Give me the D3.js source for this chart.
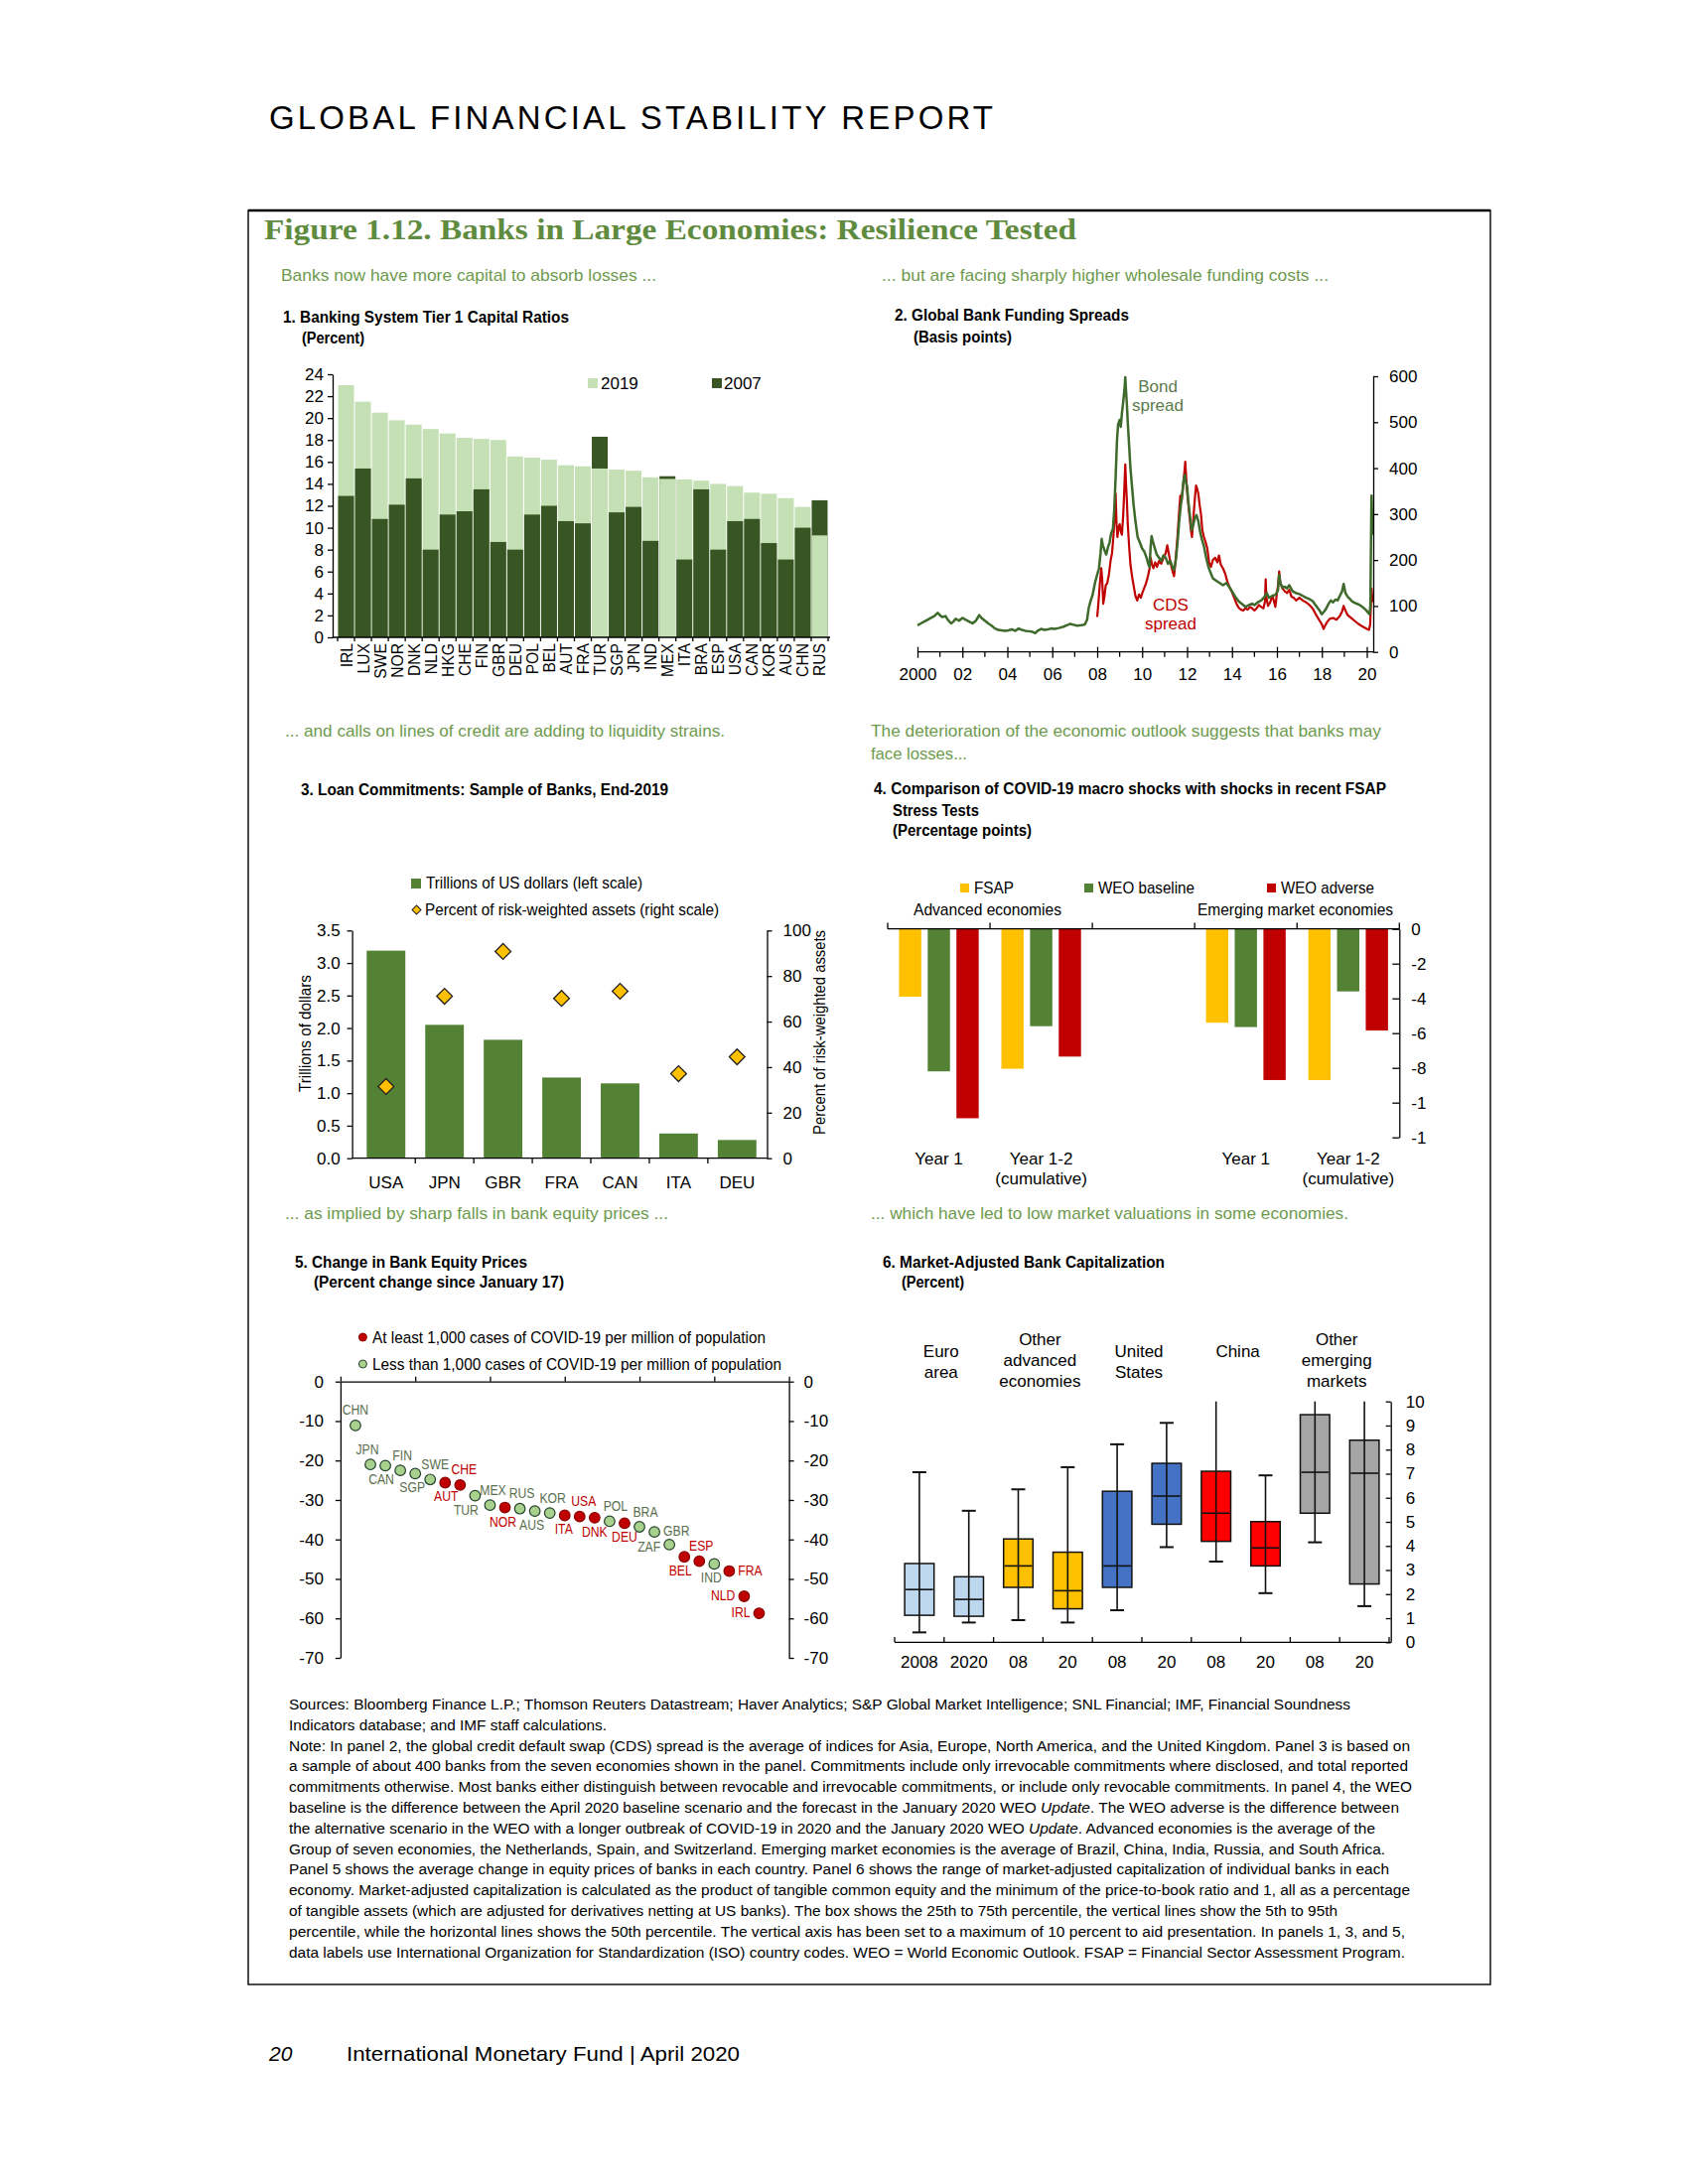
<!DOCTYPE html>
<html><head><meta charset="utf-8">
<script src="https://cdn.jsdelivr.net/npm/d3@7/dist/d3.min.js"></script>
<style>html,body{margin:0;padding:0;background:#fff}</style>
</head><body>
<svg id="chart" width="1700" height="2200" xmlns="http://www.w3.org/2000/svg"></svg>
<script>
// ================= DATA =================
// Panel 1
const p1Countries = ["IRL","LUX","SWE","NOR","DNK","NLD","HKG","CHE","FIN","GBR","DEU","POL","BEL","AUT","FRA","TUR","SGP","JPN","IND","MEX","ITA","BRA","ESP","USA","CAN","KOR","AUS","CHN","RUS"];
const p1Ratio2019 = [23.0,21.5,20.5,19.8,19.4,19.0,18.6,18.2,18.1,18.0,16.5,16.4,16.2,15.7,15.6,15.4,15.3,15.2,14.6,14.45,14.4,14.3,14.0,13.8,13.2,13.1,12.7,11.9,9.3];
const p1Ratio2007 = [12.9,15.4,10.8,12.1,14.5,8.0,11.2,11.5,13.5,8.7,8.0,11.2,12.0,10.6,10.4,18.3,11.4,11.9,8.8,14.7,7.1,13.5,8.0,10.6,10.8,8.6,7.1,10.0,12.5];
const p1YTicks = [0,2,4,6,8,10,12,14,16,18,20,22,24];

// Panel 2 : [year, basis points]
const p2Bond = [[2000.00,58],[2000.15,62],[2000.3,66],[2000.45,70],[2000.6,74],[2000.75,78],[2000.9,85],[2001.0,80],[2001.1,76],[2001.25,78],[2001.35,70],[2001.5,62],[2001.6,66],[2001.7,72],[2001.85,68],[2002.0,74],[2002.15,70],[2002.3,66],[2002.45,62],[2002.6,68],[2002.75,80],[2002.85,74],[2003.0,68],[2003.15,62],[2003.3,57],[2003.45,51],[2003.6,48],[2003.75,47],[2003.9,46],[2004.05,47],[2004.2,49],[2004.35,46],[2004.5,51],[2004.65,48],[2004.8,46],[2004.95,45],[2005.1,44],[2005.25,41],[2005.35,46],[2005.5,50],[2005.65,48],[2005.8,49],[2005.95,51],[2006.1,50],[2006.3,52],[2006.5,55],[2006.65,58],[2006.8,61],[2006.95,59],[2007.1,57],[2007.3,58],[2007.45,60],[2007.55,70],[2007.62,95],[2007.7,110],[2007.8,125],[2007.9,150],[2008.0,168],[2008.08,182],[2008.15,215],[2008.2,246],[2008.25,232],[2008.32,222],[2008.4,212],[2008.48,228],[2008.55,238],[2008.62,258],[2008.7,268],[2008.76,310],[2008.82,380],[2008.88,460],[2008.93,495],[2009.0,505],[2009.05,490],[2009.1,520],[2009.16,545],[2009.22,575],[2009.25,598],[2009.28,570],[2009.32,540],[2009.36,500],[2009.42,450],[2009.48,400],[2009.55,360],[2009.62,320],[2009.7,285],[2009.8,250],[2009.9,238],[2010.0,225],[2010.1,218],[2010.2,205],[2010.28,190],[2010.33,185],[2010.38,230],[2010.42,252],[2010.48,240],[2010.55,228],[2010.65,212],[2010.75,205],[2010.85,198],[2010.95,210],[2011.05,205],[2011.15,192],[2011.25,198],[2011.35,185],[2011.42,178],[2011.5,200],[2011.58,240],[2011.65,285],[2011.72,318],[2011.8,350],[2011.85,375],[2011.9,385],[2011.95,370],[2012.0,360],[2012.05,330],[2012.12,300],[2012.2,265],[2012.27,275],[2012.35,292],[2012.42,298],[2012.5,285],[2012.58,262],[2012.66,245],[2012.75,230],[2012.85,205],[2012.95,185],[2013.05,172],[2013.15,160],[2013.3,155],[2013.45,150],[2013.6,145],[2013.75,150],[2013.9,140],[2014.0,132],[2014.15,120],[2014.3,110],[2014.45,104],[2014.6,98],[2014.75,102],[2014.9,105],[2015.0,102],[2015.15,108],[2015.3,112],[2015.45,120],[2015.55,128],[2015.65,118],[2015.8,122],[2015.95,125],[2016.05,135],[2016.1,168],[2016.15,150],[2016.25,140],[2016.35,142],[2016.45,138],[2016.55,145],[2016.7,132],[2016.85,128],[2017.0,126],[2017.15,122],[2017.3,118],[2017.45,115],[2017.6,110],[2017.75,100],[2017.9,90],[2018.0,82],[2018.1,88],[2018.2,95],[2018.3,105],[2018.4,112],[2018.5,108],[2018.6,114],[2018.7,112],[2018.8,122],[2018.9,132],[2018.97,148],[2019.05,128],[2019.15,120],[2019.25,115],[2019.35,110],[2019.5,106],[2019.65,103],[2019.8,98],[2019.95,92],[2020.05,86],[2020.12,82],[2020.16,100],[2020.19,250],[2020.21,340],[2020.23,300],[2020.26,255]];
const p2CDS = [[2008.0,76],[2008.06,110],[2008.12,150],[2008.18,182],[2008.22,160],[2008.27,105],[2008.32,120],[2008.38,145],[2008.45,150],[2008.52,168],[2008.6,200],[2008.66,215],[2008.72,250],[2008.78,300],[2008.82,345],[2008.86,280],[2008.9,250],[2008.95,270],[2009.0,278],[2009.05,262],[2009.1,255],[2009.16,300],[2009.2,345],[2009.25,408],[2009.28,370],[2009.32,330],[2009.36,280],[2009.42,230],[2009.48,190],[2009.55,165],[2009.62,145],[2009.7,122],[2009.78,112],[2009.86,125],[2009.94,118],[2010.02,130],[2010.1,140],[2010.18,150],[2010.26,165],[2010.32,178],[2010.38,205],[2010.44,190],[2010.5,182],[2010.58,195],[2010.66,185],[2010.75,198],[2010.85,192],[2010.95,205],[2011.05,215],[2011.12,232],[2011.2,210],[2011.28,190],[2011.36,175],[2011.42,165],[2011.5,205],[2011.58,255],[2011.64,300],[2011.7,340],[2011.76,330],[2011.82,360],[2011.88,390],[2011.92,414],[2011.96,380],[2012.0,350],[2012.06,320],[2012.12,290],[2012.18,262],[2012.22,250],[2012.28,290],[2012.34,330],[2012.4,362],[2012.45,355],[2012.5,345],[2012.56,320],[2012.62,300],[2012.68,265],[2012.75,250],[2012.82,240],[2012.9,225],[2012.98,195],[2013.06,185],[2013.15,200],[2013.25,205],[2013.35,195],[2013.42,210],[2013.5,190],[2013.6,182],[2013.7,170],[2013.8,152],[2013.9,140],[2014.0,130],[2014.1,118],[2014.2,105],[2014.3,96],[2014.4,92],[2014.5,90],[2014.6,95],[2014.7,92],[2014.8,98],[2014.9,95],[2015.0,90],[2015.1,95],[2015.2,102],[2015.3,98],[2015.4,95],[2015.47,110],[2015.5,158],[2015.53,120],[2015.6,100],[2015.7,108],[2015.8,122],[2015.87,110],[2015.93,98],[2016.0,128],[2016.05,145],[2016.1,175],[2016.15,150],[2016.25,138],[2016.35,132],[2016.45,128],[2016.55,135],[2016.65,120],[2016.75,118],[2016.85,112],[2017.0,118],[2017.15,112],[2017.3,108],[2017.45,102],[2017.6,94],[2017.75,80],[2017.9,68],[2018.0,60],[2018.08,50],[2018.15,58],[2018.25,66],[2018.35,72],[2018.5,74],[2018.65,70],[2018.8,78],[2018.9,88],[2018.97,100],[2019.05,90],[2019.15,80],[2019.3,74],[2019.45,68],[2019.6,62],[2019.75,57],[2019.9,53],[2020.0,50],[2020.1,48],[2020.15,60],[2020.19,110],[2020.21,138],[2020.24,120],[2020.26,108]];
const p2XTicks = [2000,2002,2004,2006,2008,2010,2012,2014,2016,2018,2020];
const p2XTickLabels = ["2000","02","04","06","08","10","12","14","16","18","20"];
const p2YTicks = [0,100,200,300,400,500,600];

// Panel 3
const p3Countries = ["USA","JPN","GBR","FRA","CAN","ITA","DEU"];
const p3Trillions = [3.19,2.05,1.82,1.24,1.15,0.38,0.28];
const p3PctRWA = [31.5,71.1,90.8,70.2,73.3,37.1,44.5];
const p3LeftTicks = [0,0.5,1.0,1.5,2.0,2.5,3.0,3.5];
const p3RightTicks = [0,20,40,60,80,100];

// Panel 4
const p4Groups = ["AE Year 1","AE Year 1-2","gap","EM Year 1","EM Year 1-2"];
const p4GroupLabels = [["Year 1"],["Year 1-2","(cumulative)"],[],["Year 1"],["Year 1-2","(cumulative)"]];
const p4Series = ["FSAP","WEO baseline","WEO adverse"];
const p4FSAP = [-3.9,-8.05,null,-5.4,-8.7];
const p4WEOBaseline = [-8.2,-5.6,null,-5.65,-3.6];
const p4WEOAdverse = [-10.9,-7.35,null,-8.7,-5.85];
const p4YTicks = [0,-2,-4,-6,-8,-10,-12];
const p4YTickLabels = ["0","-2","-4","-6","-8","-1","-1"];

// Panel 5
const p5Countries = ["CHN","JPN","CAN","FIN","SGP","SWE","AUT","CHE","TUR","MEX","NOR","RUS","AUS","KOR","ITA","USA","DNK","POL","DEU","BRA","GBR","ZAF","BEL","ESP","IND","FRA","NLD","IRL"];
const p5Change = [-11.1,-21.0,-21.3,-22.5,-23.3,-24.8,-25.6,-26.2,-28.9,-31.3,-31.9,-32.2,-32.8,-33.3,-33.9,-34.2,-34.5,-35.4,-35.9,-36.8,-38.1,-41.3,-44.4,-45.5,-46.2,-48.0,-54.4,-58.7];
const p5HighCases = [0,0,0,0,0,0,1,1,0,0,1,0,0,0,1,1,1,0,1,0,0,0,1,1,0,1,1,1];
const p5LabelSide = ["a","a","b","a","b","a","b","a","b","a","b","a","b","a","b","a","b","a","b","a","r","l","b","a","b","r","l","l"];
const p5LabelNudge = [0,-3,-4,2,-3,5,1,4,-9,3,-2,2,-3,3,-1,4,0,6,0,6,0,0,-4,2,-3,0,0,0];
const p5YTicks = [0,-10,-20,-30,-40,-50,-60,-70];

// Panel 6
const p6Keys = ["EA08","EA20","OA08","OA20","US08","US20","CN08","CN20","EM08","EM20"];
const p6TickLabels = ["2008","2020","08","20","08","20","08","20","08","20"];
const p6P05 = [0.41,0.82,0.92,0.82,1.33,3.95,3.35,2.04,4.15,1.50];
const p6P25 = [1.12,1.08,2.28,1.39,2.28,4.90,4.19,3.17,5.36,2.42];
const p6P50 = [2.19,1.78,3.17,2.14,3.17,6.07,5.36,3.92,7.06,7.02];
const p6P75 = [3.27,2.72,4.29,3.74,6.27,7.43,7.10,5.01,9.45,8.39];
const p6P95 = [7.06,5.46,6.35,7.27,8.22,9.11,10,6.93,10,10];
const p6Groups = [["Euro","area"],["Other","advanced","economies"],["United","States"],["China"],["Other","emerging","markets"]];
const p6YTicks = [0,1,2,3,4,5,6,7,8,9,10];

// Notes
const notesLines = [
"Sources: Bloomberg Finance L.P.; Thomson Reuters Datastream; Haver Analytics; S&P Global Market Intelligence; SNL Financial; IMF, Financial Soundness",
"Indicators database; and IMF staff calculations.",
"Note: In panel 2, the global credit default swap (CDS) spread is the average of indices for Asia, Europe, North America, and the United Kingdom. Panel 3 is based on",
"a sample of about 400 banks from the seven economies shown in the panel. Commitments include only irrevocable commitments where disclosed, and total reported",
"commitments otherwise. Most banks either distinguish between revocable and irrevocable commitments, or include only revocable commitments. In panel 4, the WEO",
"baseline is the difference between the April 2020 baseline scenario and the forecast in the January 2020 WEO *Update*. The WEO adverse is the difference between",
"the alternative scenario in the WEO with a longer outbreak of COVID-19 in 2020 and the January 2020 WEO *Update*. Advanced economies is the average of the",
"Group of seven economies, the Netherlands, Spain, and Switzerland. Emerging market economies is the average of Brazil, China, India, Russia, and South Africa.",
"Panel 5 shows the average change in equity prices of banks in each country. Panel 6 shows the range of market-adjusted capitalization of individual banks in each",
"economy. Market-adjusted capitalization is calculated as the product of tangible common equity and the minimum of the price-to-book ratio and 1, all as a percentage",
"of tangible assets (which are adjusted for derivatives netting at US banks). The box shows the 25th to 75th percentile, the vertical lines show the 5th to 95th",
"percentile, while the horizontal lines shows the 50th percentile. The vertical axis has been set to a maximum of 10 percent to aid presentation. In panels 1, 3, and 5,",
"data labels use International Organization for Standardization (ISO) country codes. WEO = World Economic Outlook. FSAP = Financial Sector Assessment Program."
];
const notesWidths = [1069,320,1129,1127,1131,1118,1094,1104,1108,1129,1056,1124,1124];

// ================= DRAWING =================
const svg = d3.select('#chart');
const NAR = "'Liberation Sans Narrow','Arial Narrow','Liberation Sans',Arial,sans-serif";
const SANS = "'Liberation Sans',Arial,Helvetica,sans-serif";
const SUBC = '#6e9a4e';
const plain = d => String(d);

function T(g,x,y,s,o={}){
  const t=g.append('text').attr('x',x).attr('y',y)
    .attr('font-family',o.ff||NAR).attr('font-size',o.fs||17).attr('fill',o.fill||'#000');
  if(o.anchor)t.attr('text-anchor',o.anchor);
  if(o.fw)t.attr('font-weight',o.fw);
  if(o.fst)t.attr('font-style',o.fst);
  if(o.rot!=null)t.attr('transform',`rotate(${o.rot},${x},${y})`);
  t.text(s);
  if(o.w)t.attr('textLength',o.w).attr('lengthAdjust',o.adj||'spacingAndGlyphs');
  else if(o.sx){const n=t.node().getComputedTextLength(); t.attr('textLength',n*o.sx).attr('lengthAdjust','spacingAndGlyphs');}
  return t;
}
function styleAxis(g){
  g.attr('font-family',NAR).attr('font-size',17);
  g.selectAll('.domain').attr('stroke','#000').attr('stroke-width',1.3);
  g.selectAll('.tick line').attr('stroke','#000').attr('stroke-width',1.3);
  g.selectAll('.tick text').attr('fill','#000');
  return g;
}
function L(x1,y1,x2,y2,w=1.3,c='#000'){
  svg.append('line').attr('x1',x1).attr('y1',y1).attr('x2',x2).attr('y2',y2).attr('stroke',c).attr('stroke-width',w);
}

// Header & frame
T(svg,271,130,"GLOBAL FINANCIAL STABILITY REPORT",{ff:SANS,fs:33,w:729,adj:'spacing'});
svg.append('rect').attr('x',250).attr('y',212).attr('width',1251).attr('height',1787).attr('fill','none').attr('stroke','#000').attr('stroke-width',1.4);
L(250,212,1501,212,2.4);
T(svg,266,241,"Figure 1.12. Banks in Large Economies: Resilience Tested",{ff:"'Liberation Serif','Times New Roman',serif",fs:30,fw:'bold',fill:'#5f8b3e',w:818});

// Subtitles
T(svg,283,283,"Banks now have more capital to absorb losses ...",{fill:SUBC,w:378});
T(svg,888,283,"... but are facing sharply higher wholesale funding costs ...",{fill:SUBC,w:450});
T(svg,287,742,"... and calls on lines of credit are adding to liquidity strains.",{fill:SUBC,w:443});
T(svg,877,742,"The deterioration of the economic outlook suggests that banks may",{fill:SUBC,w:514});
T(svg,877,765,"face losses...",{fill:SUBC,w:97});
T(svg,287,1228,"... as implied by sharp falls in bank equity prices ...",{fill:SUBC,w:386});
T(svg,877,1228,"... which have led to low market valuations in some economies.",{fill:SUBC,w:481});

// Panel titles
const PT = {fw:'bold',fs:16};
T(svg,285,325,"1. Banking System Tier 1 Capital Ratios",{...PT,w:288});
T(svg,304,346,"(Percent)",{...PT,w:63});
T(svg,901,323,"2. Global Bank Funding Spreads",{...PT,w:236});
T(svg,920,345,"(Basis points)",{...PT,w:99});
T(svg,303,801,"3. Loan Commitments: Sample of Banks, End-2019",{...PT,w:370});
T(svg,880,800,"4. Comparison of COVID-19 macro shocks with shocks in recent FSAP",{...PT,w:516});
T(svg,899,822,"Stress Tests",{...PT,w:87});
T(svg,899,842,"(Percentage points)",{...PT,w:140});
T(svg,297,1277,"5. Change in Bank Equity Prices",{...PT,w:234});
T(svg,316,1297,"(Percent change since January 17)",{...PT,w:252});
T(svg,889,1277,"6. Market-Adjusted Bank Capitalization",{...PT,w:284});
T(svg,908,1297,"(Percent)",{...PT,w:63});

// ---------- Panel 1 ----------
{
  const LIGHT='#c5e0b4', DARK='#375623';
  const x=d3.scaleBand().domain(p1Countries).range([340,834]).paddingInner(0.06).paddingOuter(0.03);
  const y=d3.scaleLinear().domain([0,24]).range([642,377]);
  const g=svg.append('g');
  p1Countries.forEach((c,i)=>{
    const bars=[{v:p1Ratio2019[i],col:LIGHT},{v:p1Ratio2007[i],col:DARK}].sort((a,b)=>b.v-a.v);
    bars.forEach(b=>{
      g.append('rect').attr('x',x(c)).attr('width',x.bandwidth()).attr('y',y(b.v)).attr('height',y(0)-y(b.v)).attr('fill',b.col);
    });
    T(svg,x(c)+x.bandwidth()/2+6,648,c,{fs:17,anchor:'end',rot:-90,sx:0.92});
  });
  const ay=svg.append('g').attr('transform','translate(335,0)').call(d3.axisLeft(y).tickValues(p1YTicks).tickSize(5).tickSizeOuter(0).tickPadding(4));
  styleAxis(ay);
  L(335,642,836,642);
  const step=x.step();
  for(let i=0;i<=p1Countries.length;i++){const bx=x(p1Countries[0])-x.step()*x.paddingInner()/2+i*step; L(bx,642,bx,646);}
  svg.append('rect').attr('x',592).attr('y',381).attr('width',10).attr('height',10).attr('fill',LIGHT);
  T(svg,605,392,"2019");
  svg.append('rect').attr('x',717).attr('y',381).attr('width',10).attr('height',10).attr('fill',DARK);
  T(svg,729,392,"2007");
}

// ---------- Panel 2 ----------
{
  const x=d3.scaleLinear().domain([2000,2020]).range([924,1376.5]);
  const y=d3.scaleLinear().domain([0,600]).range([656.7,379]);
  const line=d3.line().x(d=>x(d[0])).y(d=>y(d[1]));
  svg.append('path').datum(p2CDS).attr('d',line).attr('fill','none').attr('stroke','#c00000').attr('stroke-width',2.2).attr('stroke-linejoin','round');
  svg.append('path').datum(p2Bond).attr('d',line).attr('fill','none').attr('stroke','#3e6a2c').attr('stroke-width',2.5).attr('stroke-linejoin','round');
  const ar=svg.append('g').attr('transform','translate(1383,0)').call(d3.axisRight(y).tickValues(p2YTicks).tickFormat(plain).tickSize(5).tickSizeOuter(0).tickPadding(11));
  styleAxis(ar);
  const ax=svg.append('g').attr('transform','translate(0,656.7)').call(d3.axisBottom(x).tickValues(p2XTicks).tickFormat((d,i)=>p2XTickLabels[i]).tickSize(6).tickPadding(10));
  styleAxis(ax);
  ax.select('.domain').remove();
  ax.selectAll('.tick line').attr('y1',-5);
  L(924,656.7,1383,656.7);
  for(let yr=2001;yr<2020;yr+=2){L(x(yr),656.7,x(yr),661.7);}
  T(svg,1166,395,"Bond",{anchor:'middle',fill:'#5c7a4c'});
  T(svg,1166,414,"spread",{anchor:'middle',fill:'#5c7a4c'});
  T(svg,1179,615,"CDS",{anchor:'middle',fill:'#c00000'});
  T(svg,1179,634,"spread",{anchor:'middle',fill:'#c00000'});
}

// ---------- Panel 3 ----------
{
  const x=d3.scaleBand().domain(p3Countries).range([359.3,771.8]).paddingInner(0.34).paddingOuter(0.17);
  const y=d3.scaleLinear().domain([0,3.5]).range([1166.7,937.3]);
  const yr=d3.scaleLinear().domain([0,100]).range([1166.7,937.3]);
  p3Countries.forEach((c,i)=>{
    svg.append('rect').attr('x',x(c)).attr('width',x.bandwidth()).attr('y',y(p3Trillions[i])).attr('height',y(0)-y(p3Trillions[i])).attr('fill','#548235');
  });
  const dia=d3.symbol(d3.symbolSquare,125);
  p3Countries.forEach((c,i)=>{
    svg.append('path').attr('d',dia()).attr('transform',`translate(${x(c)+x.bandwidth()/2},${yr(p3PctRWA[i])}) rotate(45)`).attr('fill','#ffc000').attr('stroke','#222').attr('stroke-width',1.3);
    T(svg,x(c)+x.bandwidth()/2,1197,c,{anchor:'middle'});
  });
  const al=svg.append('g').attr('transform','translate(354.6,0)').call(d3.axisLeft(y).tickValues(p3LeftTicks).tickFormat(d3.format('.1f')).tickSize(5).tickSizeOuter(0).tickPadding(7));
  styleAxis(al);
  const ar=svg.append('g').attr('transform','translate(772.5,0)').call(d3.axisRight(yr).tickValues(p3RightTicks).tickFormat(plain).tickSize(5).tickSizeOuter(0).tickPadding(11));
  styleAxis(ar);
  L(354.6,1166.7,772.5,1166.7);
  for(let i=1;i<p3Countries.length;i++){const bx=359.3+i*x.step(); L(bx,1166.7,bx,1172);}
  T(svg,313,1041,"Trillions of dollars",{anchor:'middle',rot:-90,w:118});
  T(svg,831,1040,"Percent of risk-weighted assets",{anchor:'middle',rot:-90,w:206});
  svg.append('rect').attr('x',414).attr('y',885).attr('width',10).attr('height',10).attr('fill','#548235');
  T(svg,429,895,"Trillions of US dollars (left scale)",{w:218});
  svg.append('path').attr('d',d3.symbol(d3.symbolSquare,40)()).attr('transform','translate(419.5,916.5) rotate(45)').attr('fill','#ffc000').attr('stroke','#222').attr('stroke-width',1);
  T(svg,428,922,"Percent of risk-weighted assets (right scale)",{w:296});
}

// ---------- Panel 4 ----------
{
  const COLS=['#ffc000','#548235','#c00000'];
  const gx=d3.scaleBand().domain(p4Groups).range([894,1409.3]);
  const sx=d3.scaleBand().domain(p4Series).range([0,gx.bandwidth()]).paddingInner(0.224).paddingOuter(0.395);
  const y=d3.scaleLinear().domain([0,-12]).range([935.7,1145.7]);
  const vals=[p4FSAP,p4WEOBaseline,p4WEOAdverse];
  p4Groups.forEach((g,gi)=>{
    p4Series.forEach((s,si)=>{
      const v=vals[si][gi]; if(v==null) return;
      svg.append('rect').attr('x',gx(g)+sx(s)).attr('width',sx.bandwidth()).attr('y',y(0)).attr('height',y(v)-y(0)).attr('fill',COLS[si]);
    });
    const cx=gx(g)+gx.bandwidth()/2;
    p4GroupLabels[gi].forEach((t,li)=>T(svg,cx,1173+li*20,t,{anchor:'middle'}));
  });
  const ar=svg.append('g').attr('transform','translate(1409.3,0)').call(d3.axisRight(y).tickValues(p4YTicks).tickFormat((d,i)=>p4YTickLabels[i]).tickSize(-7).tickSizeOuter(0).tickPadding(12));
  styleAxis(ar);
  L(894,935.7,1409.3,935.7);
  for(let i=0;i<=p4Groups.length;i++){const bx=894+i*gx.step(); L(bx,935.7,bx,929.5);}
  svg.append('rect').attr('x',967).attr('y',890).attr('width',9).attr('height',9).attr('fill',COLS[0]);
  T(svg,981,900,"FSAP",{w:40});
  svg.append('rect').attr('x',1092).attr('y',890).attr('width',9).attr('height',9).attr('fill',COLS[1]);
  T(svg,1106,900,"WEO baseline",{w:97});
  svg.append('rect').attr('x',1276).attr('y',890).attr('width',9).attr('height',9).attr('fill',COLS[2]);
  T(svg,1290,900,"WEO adverse",{w:94});
  T(svg,920,922,"Advanced economies",{w:149});
  T(svg,1206,922,"Emerging market economies",{w:197});
}

// ---------- Panel 5 ----------
{
  const x=d3.scaleLinear().domain([0,30]).range([342.9,794.6]);
  const y=d3.scaleLinear().domain([0,-70]).range([1391.7,1670]);
  const al=svg.append('g').attr('transform','translate(342.9,0)').call(d3.axisLeft(y).tickValues(p5YTicks).tickFormat(plain).tickSize(5).tickSizeOuter(0).tickPadding(12));
  styleAxis(al);
  const ar=svg.append('g').attr('transform','translate(794.6,0)').call(d3.axisRight(y).tickValues(p5YTicks).tickFormat(plain).tickSize(5).tickSizeOuter(0).tickPadding(10));
  styleAxis(ar);
  const at=svg.append('g').attr('transform','translate(0,1391.7)').call(d3.axisTop(x).tickValues([0,5,10,15,20,25,30]).tickFormat('').tickSize(5).tickSizeOuter(0));
  styleAxis(at);
  p5Countries.forEach((c,i)=>{
    const px=x(i+1), py=y(p5Change[i]);
    const red=p5HighCases[i]===1;
    svg.append('circle').attr('cx',px).attr('cy',py).attr('r',5.3).attr('fill',red?'#c00000':'#a9d18e').attr('stroke',red?'#8a0000':'#24402e').attr('stroke-width',1.2);
  });
  p5Countries.forEach((c,i)=>{
    const px=x(i+1), py=y(p5Change[i]);
    const red=p5HighCases[i]===1;
    const col=red?'#c00000':'#5b6f4f';
    const side=p5LabelSide[i], dx=p5LabelNudge[i];
    const o={fs:14.5,fill:col,sx:0.84};
    if(side==='a') T(svg,px+dx,py-10.5,c,{...o,anchor:'middle'});
    else if(side==='b') T(svg,px+dx,py+19,c,{...o,anchor:'middle'});
    else if(side==='r') T(svg,px+9,py+4,c,o);
    else T(svg,px-9,py+(c==='ZAF'?7:4),c,{...o,anchor:'end'});
  });
  svg.append('circle').attr('cx',365.4).attr('cy',1347).attr('r',4).attr('fill','#c00000').attr('stroke','#8a0000');
  T(svg,375,1353,"At least 1,000 cases of COVID-19 per million of population",{w:396});
  svg.append('circle').attr('cx',365.4).attr('cy',1374).attr('r',4).attr('fill','#a9d18e').attr('stroke','#24402e');
  T(svg,375,1380,"Less than 1,000 cases of COVID-19 per million of population",{w:412});
}

// ---------- Panel 6 ----------
{
  const COLS=['#bdd7ee','#bdd7ee','#ffc000','#ffc000','#4472c4','#4472c4','#ff0000','#ff0000','#a5a5a5','#a5a5a5'];
  const x=d3.scaleBand().domain(p6Keys).range([901,1399]).paddingInner(0.406).paddingOuter(0.203);
  const y=d3.scaleLinear().domain([0,10]).range([1654.3,1411.7]).clamp(true);
  p6Keys.forEach((k,i)=>{
    const cx=x(k)+x.bandwidth()/2;
    svg.append('rect').attr('x',x(k)).attr('width',x.bandwidth()).attr('y',y(p6P75[i])).attr('height',y(p6P25[i])-y(p6P75[i])).attr('fill',COLS[i]).attr('stroke','#111').attr('stroke-width',1.5);
    L(cx,y(p6P05[i]),cx,y(p6P95[i]),1.6,'#111');
    L(x(k)+1,y(p6P50[i]),x(k)+x.bandwidth()-1,y(p6P50[i]),1.6,'#111');
    L(cx-7,y(p6P05[i]),cx+7,y(p6P05[i]),2,'#111');
    if(p6P95[i]<10) L(cx-7,y(p6P95[i]),cx+7,y(p6P95[i]),2,'#111');
    T(svg,cx,1680,p6TickLabels[i],{anchor:'middle'});
  });
  const ar=svg.append('g').attr('transform','translate(1400.7,0)').call(d3.axisRight(y).tickValues(p6YTicks).tickFormat(plain).tickSize(-5).tickSizeOuter(0).tickPadding(15));
  styleAxis(ar);
  L(901,1654.3,1400.7,1654.3);
  for(let i=0;i<=p6Keys.length;i++){const bx=901+i*x.step(); L(bx,1654.3,bx,1649);}
  p6Groups.forEach((lines,gi)=>{
    const a=p6Keys[gi*2], b=p6Keys[gi*2+1];
    const cx=(x(a)+x(b)+x.bandwidth())/2-3;
    const n=lines.length;
    const y0 = n===3?1355:1367;
    lines.forEach((t,li)=>T(svg,cx,y0+li*21,t,{anchor:'middle'}));
  });
}

// ---------- Notes ----------
{
  notesLines.forEach((ln,i)=>{
    const t=svg.append('text').attr('x',291).attr('y',1722+i*20.8).attr('font-family',NAR).attr('font-size',15.5).attr('fill','#000')
      .attr('textLength',notesWidths[i]).attr('lengthAdjust','spacingAndGlyphs');
    ln.split('*').forEach((seg,si)=>{ t.append('tspan').attr('font-style',si%2?'italic':'normal').text(seg); });
  });
}

// Footer
T(svg,271,2076,"20",{ff:SANS,fs:21,fst:'italic'});
T(svg,349,2076,"International Monetary Fund | April 2020",{ff:SANS,fs:21,w:396});
</script></body></html>
